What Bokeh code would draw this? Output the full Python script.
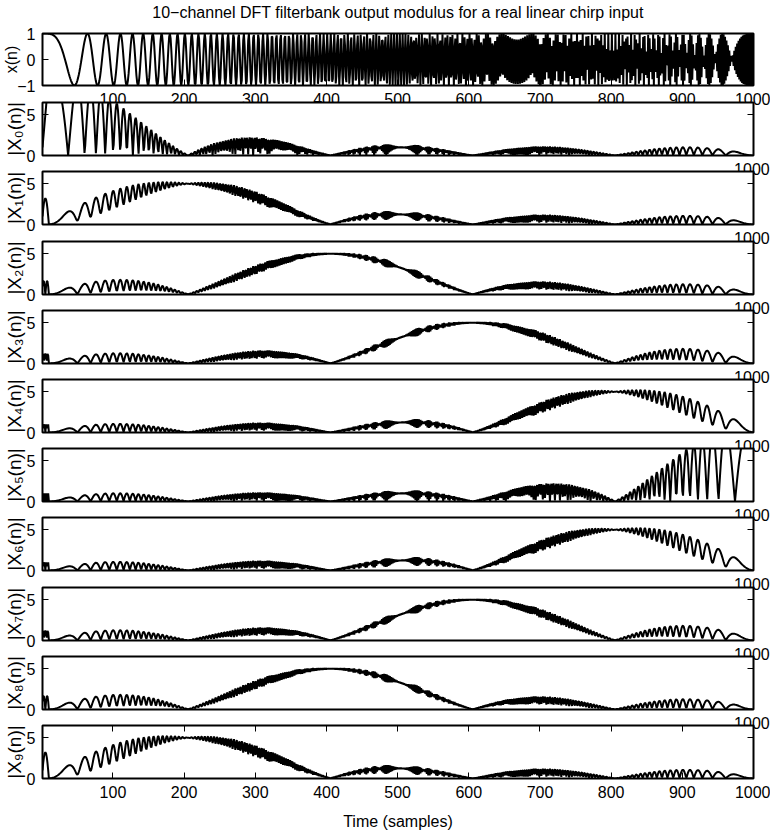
import numpy as np
from bokeh.plotting import figure
from bokeh.models import Range1d, LinearAxis, FixedTicker
from bokeh.layouts import column
from bokeh.embed import file_html
from bokeh.resources import INLINE

# ---------------- data description ----------------
N_SAMPLES = 1000        # length of the real linear chirp
N_CHANNELS = 10         # DFT filterbank channels (= window length)
F_START = 0.0           # chirp start frequency, cycles/sample
F_END = 0.5             # chirp end frequency, cycles/sample

TITLE = "10\u2212channel DFT filterbank output modulus for a real linear chirp input"
X_LABEL = "Time (samples)"
X_RANGE = [1, 1000]
X_TICKS = [100, 200, 300, 400, 500, 600, 700, 800, 900, 1000]
X_TICKS_MID = [1000]
SIG_Y_RANGE = [-1, 1]
SIG_Y_TICKS = [-1, 0, 1]
MAG_Y_RANGE = [0, 6.5]
MAG_Y_TICKS = [0, 5]
SUBSCRIPTS = ["\u2080", "\u2081", "\u2082", "\u2083", "\u2084",
              "\u2085", "\u2086", "\u2087", "\u2088", "\u2089"]
Y_LABELS = ["x(n)"] + ["|X" + s + "(n)|" for s in SUBSCRIPTS]

# ---------------- signal and filterbank ----------------
n = np.arange(N_SAMPLES)
x = np.cos(2 * np.pi * (F_START * n + (F_END - F_START) * n ** 2 / (2 * N_SAMPLES)))
m = np.arange(N_CHANNELS)
mags = []
for k in range(N_CHANNELS):
    h = np.exp(-2j * np.pi * k * m / N_CHANNELS)
    mags.append(np.abs(np.convolve(x, h)[:N_SAMPLES]))
t = n + 1
series = [x] + mags

# ---------------- layout ----------------
FONT = "'Liberation Sans', 'DejaVu Sans', sans-serif"
FS = "16px"
W = 770
BL, BR = 41, 17
tops = [round(33 + 69.2 * i) for i in range(11)]
heights = [52] + [53] * 10


def axis_common(ax, ticks, labels=True):
    ax.ticker = FixedTicker(ticks=ticks)
    ax.axis_line_color = None
    ax.major_tick_in = 6
    ax.major_tick_out = 0
    ax.major_tick_line_color = "black"
    ax.major_tick_line_width = 1
    ax.minor_tick_line_color = None
    ax.major_label_text_font = FONT
    if labels:
        ax.major_label_text_color = "black"
        ax.major_label_text_font_size = FS
    else:
        ax.major_label_text_color = None
        ax.major_label_text_font_size = "1px"
        ax.major_label_standoff = 0


figs = []
prev_bottom = None
for i in range(11):
    first = i == 0
    last = i == 10
    bt = 44 if first else 16
    bb = 57 if last else 32
    canvas_top = tops[i] - bt
    h = bt + heights[i] + bb
    mt = canvas_top if first else canvas_top - prev_bottom
    mb = -8 if last else 0
    prev_bottom = canvas_top + h
    yr = SIG_Y_RANGE if first else MAG_Y_RANGE
    yt = SIG_Y_TICKS if first else MAG_Y_TICKS

    p = figure(width=W, height=h, x_range=Range1d(*X_RANGE), y_range=Range1d(*yr),
               output_backend="svg", toolbar_location=None,
               min_border_left=BL, min_border_right=BR,
               min_border_top=bt, min_border_bottom=bb)
    p.margin = (mt, 0, mb, 0)
    p.styles = {"position": "relative", "z-index": str(i + 1)}
    p.grid.visible = False
    p.border_fill_color = None
    p.background_fill_color = "white"
    p.outline_line_color = "black"
    p.outline_line_width = 2

    xa = p.xaxis[0]
    axis_common(xa, X_TICKS if (first or last) else X_TICKS_MID)
    xa.major_label_standoff = 7
    if last:
        xa.axis_label = X_LABEL
        xa.axis_label_text_font = FONT
        xa.axis_label_text_font_size = FS
        xa.axis_label_text_font_style = "normal"
        xa.axis_label_text_color = "black"
        xa.axis_label_standoff = 12
        top_ax = LinearAxis()
        axis_common(top_ax, X_TICKS[:-1], labels=False)
        p.add_layout(top_ax, "above")

    ya = p.yaxis[0]
    axis_common(ya, yt)
    ya.major_label_standoff = 7
    ya.major_label_overrides = {-1: "\u22121"}
    ya.axis_label = Y_LABELS[i]
    ya.axis_label_text_font = FONT
    ya.axis_label_text_font_size = "16px" if first else "19px"
    ya.axis_label_text_font_style = "normal"
    ya.axis_label_text_color = "black"
    ya.axis_label_standoff = -6 if first else -1

    r_ax = LinearAxis()
    axis_common(r_ax, yt, labels=False)
    p.add_layout(r_ax, "right")

    if first:
        p.title.text = TITLE
        p.title.align = "center"
        p.title.text_font = FONT
        p.title.text_font_size = "16px"
        p.title.text_font_style = "normal"
        p.title.text_color = "black"
        p.title.standoff = 25

    p.line(t, series[i], line_color="black", line_width=2.0)
    figs.append(p)

layout = column(*figs, spacing=0)
open("out.html", "w").write(file_html(layout, INLINE))
